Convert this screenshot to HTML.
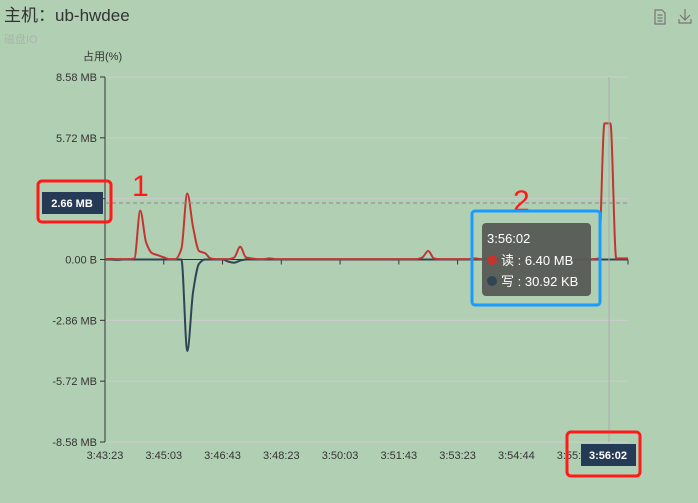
<!DOCTYPE html>
<html><head><meta charset="utf-8"><style>
body{margin:0;background:#b1d0b3;}
svg{display:block;font-family:"Liberation Sans","Noto Sans CJK SC",sans-serif;}
</style></head><body>
<svg id="c" width="698" height="503" viewBox="0 0 698 503">
<rect width="698" height="503" fill="#b1d0b3"/>
<text x="4" y="21" font-size="17" fill="#333">主机：ub-hwdee</text>
<text x="4" y="43" font-size="11" fill="#a9b4aa">磁盘IO</text>
<text x="83" y="60" font-size="11" fill="#333">占用(%)</text>
<g fill="none" stroke="#777" stroke-width="1.2">
<path d="M655 10h7l3 3v11h-10z"/><path d="M657.5 15h5M657.5 18h5M657.5 21h5"/></g>
<g fill="none" stroke="#777" stroke-width="1.2">
<path d="M685 9v11M680 15l5 5 5-5M679 19v4h12v-4"/></g>
<g id="grid"></g><g id="marks"></g><g id="over"></g>
</svg>
<script>
const yTicks=[8.58,5.72,2.86,0,-2.86,-5.72,-8.58];
const yTickLabels=["8.58 MB","5.72 MB","","0.00 B","-2.86 MB","-5.72 MB","-8.58 MB"];
const xTickLabels=["3:43:23","3:45:03","3:46:43","3:48:23","3:50:03","3:51:43","3:53:23","3:54:44","3:55:23"];
const readVals=[0.02,0.03,0.02,0.02,0.02,0.05,2.3,0.8,0.3,0.2,0.1,0.02,0.02,0.5,3.1,1.5,0.4,0.3,0.05,0.02,0.02,0.02,0.1,0.6,0.1,0.05,0.02,0.02,0.05,0.02,0.02,0.02,0.02,0.02,0.02,0.02,0.02,0.02,0.02,0.02,0.02,0.02,0.02,0.02,0.02,0.02,0.02,0.02,0.02,0.02,0.02,0.02,0.02,0.02,0.1,0.4,0.05,0.02,0.02,0.02,0.02,0.02,0.02,0.05,0.02,0.02,0.02,0.02,0.02,0.02,0.02,0.02,0.02,0.02,0.02,0.02,0.02,0.02,0.02,0.02,0.02,0.02,0.02,0.02,0.05,6.4,6.4,0.05,0.05,0.05];
const writeVals=[0,0,-0.02,0,0,0,0,0,0,0,0,0,0,0,-4.3,-1.5,-0.2,0,0,0,0,-0.1,-0.15,-0.05,0,0,0,0,0,0,0,0,0,0,0,0,0,0,0,0,0,0,0,0,0,0,0,0,0,0,0,0,0,0,0,0,0,0,0,0,0,0,0,0,0,0,0,0,0,0,0,0,0,0,0,0,0,0,0,0,0,0,0,0,0,0,0,0,0,0];
const X0=105,X1=628,Y0=77,Y1=442,N=readVals.length;
const xs=i=>X0+i*(X1-X0)/(N-1);
const ys=v=>Y0+(8.58-v)/17.16*(Y1-Y0);
const NS="http://www.w3.org/2000/svg";
function mk(p,t,a){const e=document.createElementNS(NS,t);for(const k in a)e.setAttribute(k,a[k]);p.appendChild(e);return e;}
const grid=document.getElementById('grid'),marks=document.getElementById('marks');
yTicks.forEach((v,i)=>{
 const g=mk(grid,'line',{x1:X0,x2:X1,y1:ys(v),y2:ys(v),stroke:'#ccc'});
 
 
 mk(grid,'line',{x1:X0-5,x2:X0,y1:ys(v),y2:ys(v),stroke:'#333'});
 const t=mk(grid,'text',{x:X0-8,y:ys(v)+4,'font-size':11,fill:'#333','text-anchor':'end'});
 t.textContent=yTickLabels[i];
 
 
});
mk(grid,'line',{x1:X0,x2:X0,y1:Y0,y2:Y1,stroke:'#333'});
mk(grid,'line',{x1:X0,x2:X1,y1:ys(0),y2:ys(0),stroke:'#333'});
xTickLabels.forEach((l,i)=>{
 const x=xs(i*10);
 mk(grid,'line',{x1:x,x2:x,y1:ys(0),y2:ys(0)+5,stroke:'#333'});
 const t=mk(grid,'text',{x:x,y:Y1+17,'font-size':11,fill:'#333','text-anchor':'middle'});
 t.textContent=l;
 
 
});
mk(grid,'line',{x1:X1,x2:X1,y1:ys(0),y2:ys(0)+5,stroke:'#333'});
function path(vals){
 const p=vals.map((v,i)=>[xs(i),ys(v)]);const n=p.length;const h=p[1][0]-p[0][0];
 const d=[];for(let i=0;i<n-1;i++)d.push((p[i+1][1]-p[i][1])/h);
 const m=[d[0]];for(let i=1;i<n-1;i++)m.push(d[i-1]*d[i]<=0?0:2/(1/d[i-1]+1/d[i]));m.push(d[n-2]);
 let s='M'+p[0];
 for(let i=0;i<n-1;i++){s+=` C${p[i][0]+h/3},${p[i][1]+m[i]*h/3} ${p[i+1][0]-h/3},${p[i+1][1]-m[i+1]*h/3} ${p[i+1][0]},${p[i+1][1]}`;}
 return s;}
const w=mk(marks,'path',{d:path(writeVals),fill:'none',stroke:'#2f4554','stroke-width':2});


const r=mk(marks,'path',{d:path(readVals),fill:'none',stroke:'#c23531','stroke-width':2});


</script>
<svg width="698" height="503" style="position:absolute;left:0;top:0;font-family:'Liberation Sans','Noto Sans CJK SC',sans-serif">
<line x1="105" x2="628" y1="203" y2="203" stroke="#888" stroke-dasharray="4,3"/>
<line x1="609" x2="609" y1="77" y2="442" stroke="#aaa"/>
<g><rect x="42" y="192" width="61" height="22" fill="#253a55"/><text x="72" y="207" font-size="11" font-weight="bold" fill="#fff" text-anchor="middle">2.66 MB</text></g>
<g><rect x="581" y="444" width="55" height="22" fill="#253a55"/><text x="608" y="459" font-size="11" font-weight="bold" fill="#fff" text-anchor="middle">3:56:02</text></g>
<rect x="38" y="181" width="73" height="41" rx="4" fill="none" stroke="#ff1a1a" stroke-width="3"/>
<rect x="567" y="432" width="73" height="44" rx="4" fill="none" stroke="#ff1a1a" stroke-width="3"/>
<text x="132" y="196" font-size="30" fill="#ff1a1a">1</text>
<text x="513" y="211" font-size="30" fill="#ff1a1a">2</text>
<g>
<rect x="482" y="223" width="109" height="73" rx="4" fill="#585d57" fill-opacity="0.97"/>
<text x="487" y="243" font-size="13" fill="#fff">3:56:02</text>
<circle cx="492" cy="260" r="5" fill="#c23531"/><text x="501" y="265" font-size="13" fill="#fff">读 : 6.40 MB</text>
<circle cx="492" cy="281" r="5" fill="#2f4554"/><text x="501" y="286" font-size="13" fill="#fff">写 : 30.92 KB</text>
</g>
<rect x="472" y="211" width="128" height="94" rx="3" fill="none" stroke="#1a9cff" stroke-width="3"/>
</svg>
</body></html>
